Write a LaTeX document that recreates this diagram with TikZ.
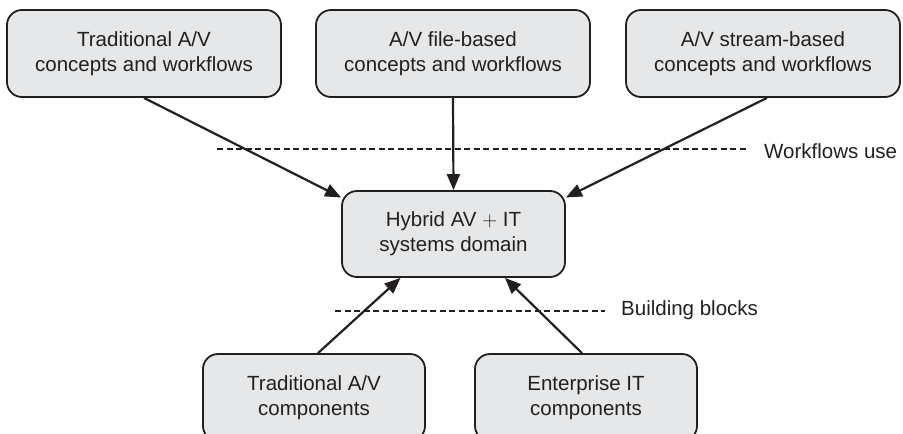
\documentclass[tikz,border=0pt]{standalone}
\usepackage{fontspec}
\setmainfont{Liberation Sans}
\usetikzlibrary{arrows.meta}
\definecolor{ink}{HTML}{231F20}
\definecolor{boxfill}{HTML}{E6E7E8}
\tikzset{
  stagebox/.style={draw=ink, fill=boxfill, line width=1.8pt, rounded corners=15pt,
    minimum height=87pt, align=center, inner sep=0pt, text=ink,
    font=\fontsize{20.5pt}{25pt}\selectfont},
  flow/.style={draw=ink, line width=2.2pt, -{Triangle[length=16pt,width=13pt]}},
  divider/.style={draw=ink, line width=1.4pt, dash pattern=on 6pt off 3.5pt},
  sidelabel/.style={anchor=base west, inner sep=0pt, text=ink,
    font=\fontsize{20.5pt}{25pt}\selectfont}
}
\begin{document}
\begin{tikzpicture}[x=1pt,y=-1pt]
\useasboundingbox (0,0) rectangle (903,434);
\clip (0,0) rectangle (903,434);
% top row
\node[stagebox, minimum width=274pt] (TL) at (144,53.5) {Traditional A/V\\concepts and workflows};
\node[stagebox, minimum width=274pt] (TM) at (453,53.5) {A/V file-based\\concepts and workflows};
\node[stagebox, minimum width=274pt] (TR) at (763,53.5) {A/V stream-based\\concepts and workflows};
% centre
\node[stagebox, minimum width=223pt, minimum height=86pt] (C) at (453.5,234) {Hybrid AV $+$ IT\\systems domain};
% bottom row
\node[stagebox, minimum width=222pt] (BL) at (314,397.5) {Traditional A/V\\components};
\node[stagebox, minimum width=222pt] (BR) at (586,397.5) {Enterprise IT\\components};
% labels and dividers
\node[sidelabel] (WU) at (764,158) {Workflows use};
\node[sidelabel] (BB) at (621,315) {Building blocks};
\coordinate (d1) at (217,149);
\coordinate (d2) at (335,311);
\draw[divider] (d1) -- ([xshift=-17pt]d1 -| WU.west);
\draw[divider] (d2) -- ([xshift=-16pt]d2 -| BB.west);
% connectors
\draw[flow] (TL.south) -- (C.162);
\draw[flow] (TM.south) -- (C.north);
\draw[flow] ([xshift=4pt]TR.south) -- (C.18);
\draw[flow] ([xshift=4pt]BL.north) -- ([xshift=-53pt]C.south);
\draw[flow] ([xshift=-4pt]BR.north) -- ([xshift=51.5pt]C.south);
\end{tikzpicture}
\end{document}
